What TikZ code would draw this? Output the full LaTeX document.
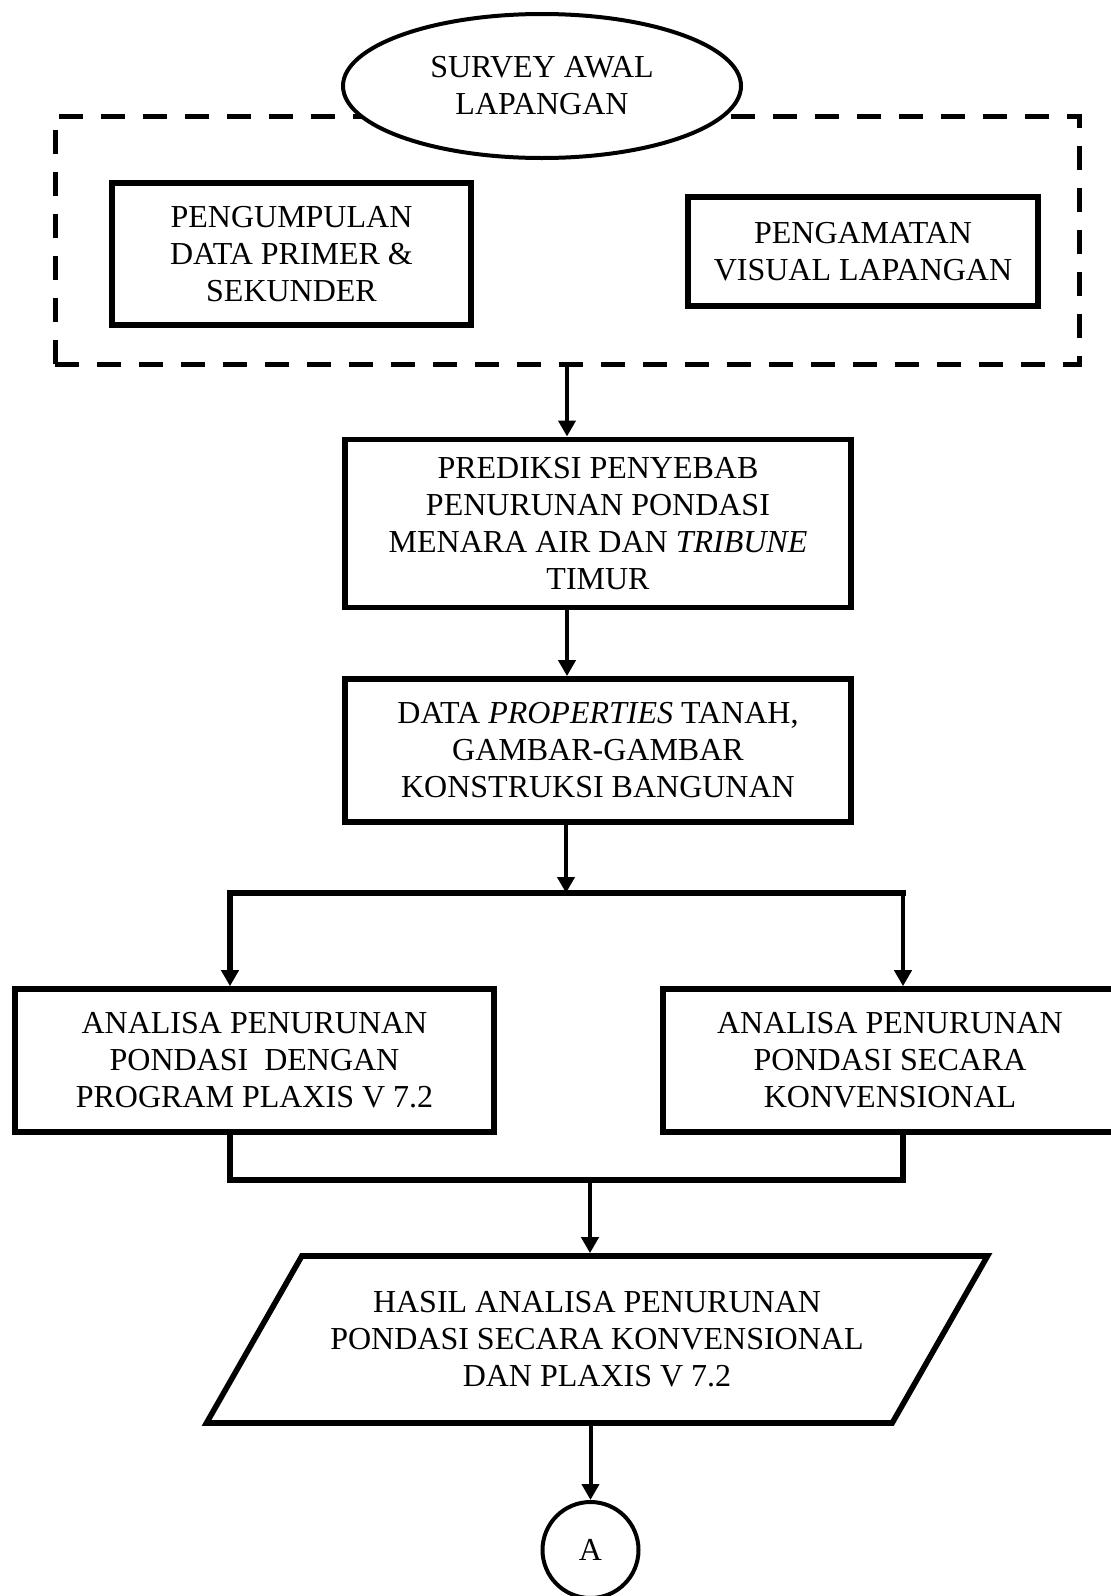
\documentclass[tikz,border=0pt]{standalone}
\usepackage{fontspec}
\setmainfont{Liberation Serif}
\usetikzlibrary{arrows.meta,positioning,shapes.geometric}

\begin{document}
\begin{tikzpicture}[
  x=0.5pt, y=-0.5pt,
  font=\fontsize{16}{18.5}\selectfont,
  box/.style={rectangle, draw, line width=2.8pt, align=center, inner sep=0pt},
  grpbox/.style={rectangle, draw, line width=2.5pt, dash pattern=on 12pt off 9pt, minimum width=512pt, minimum height=124pt},
  oval/.style={ellipse, draw, fill=white, line width=2pt, align=center},
  iobox/.style={trapezium, trapezium left angle=51, trapezium right angle=129, trapezium stretches=true, draw, line width=2.8pt, align=center},
  arrow/.style={-{Triangle[length=8pt,width=8.5pt]}, line width=2pt},
  barline/.style={line width=2.8pt, line cap=rect}
]
\useasboundingbox (0,0) rectangle (1110,1596);
% Group: survey awal lapangan
\node[grpbox] (grp) at (567,240) {};
\node[oval, minimum width=199pt, minimum height=72pt] (surv) at (542,86) {SURVEY AWAL\\LAPANGAN};
\node[box, minimum width=179.5pt, minimum height=71pt] (kump) at (291.5,254) {PENGUMPULAN\\DATA PRIMER \&\\SEKUNDER};
\node[box, minimum width=175pt, minimum height=54.5pt] (amat) at (863,251.5) {PENGAMATAN\\VISUAL LAPANGAN};
% Main column
\node[box, below=35pt of grp, xshift=15.5pt, minimum width=253pt, minimum height=84pt] (pred) {PREDIKSI PENYEBAB\\PENURUNAN PONDASI\\MENARA AIR DAN \textit{TRIBUNE}\\TIMUR};
\node[box, below=33pt of pred, minimum width=253pt, minimum height=71.5pt] (data) {DATA \textit{PROPERTIES} TANAH,\\GAMBAR-GAMBAR\\KONSTRUKSI BANGUNAN};
% Two analyses
\node[box, minimum width=239.5pt, minimum height=71.5pt] (kiri) at (254.5,1060.5) {ANALISA PENURUNAN\\PONDASI~ DENGAN\\PROGRAM PLAXIS V 7.2};
\node[box, right=81.7pt of kiri, minimum width=227pt, minimum height=71.5pt] (kanan) {ANALISA PENURUNAN\\PONDASI SECARA\\KONVENSIONAL};
% Result and connector
\node[iobox, minimum width=391pt, minimum height=83.5pt] (hasil) at (597,1339.5) {HASIL ANALISA PENURUNAN\\PONDASI SECARA KONVENSIONAL\\DAN PLAXIS V 7.2};
\node[circle, draw, line width=2pt, minimum size=48pt] (circA) at (590.5,1550) {A};
\coordinate (fork) at (566,893);
\coordinate (fl) at (230,893);
\coordinate (fr) at (903,893);
\coordinate (mrg) at (590,1180);
\draw[arrow] (grp.south) -- (pred.north -| grp.south);
\draw[arrow] (pred.south -| grp.south) -- (data.north -| grp.south);
\draw[arrow] (data.south -| fork) -- (fork);
\draw[barline] (fl) -- (fr);
\draw[arrow, line width=2.8pt] (fl) -- (kiri.north -| fl);
\draw[arrow] (fr) -- (kanan.north -| fr);
\draw[barline] (kiri.south -| fl) |- (mrg) -| (kanan.south -| fr);
\draw[arrow] (mrg) -- (hasil.north -| mrg);
\draw[arrow] (hasil.south -| circA) -- (circA);
\end{tikzpicture}
\end{document}
